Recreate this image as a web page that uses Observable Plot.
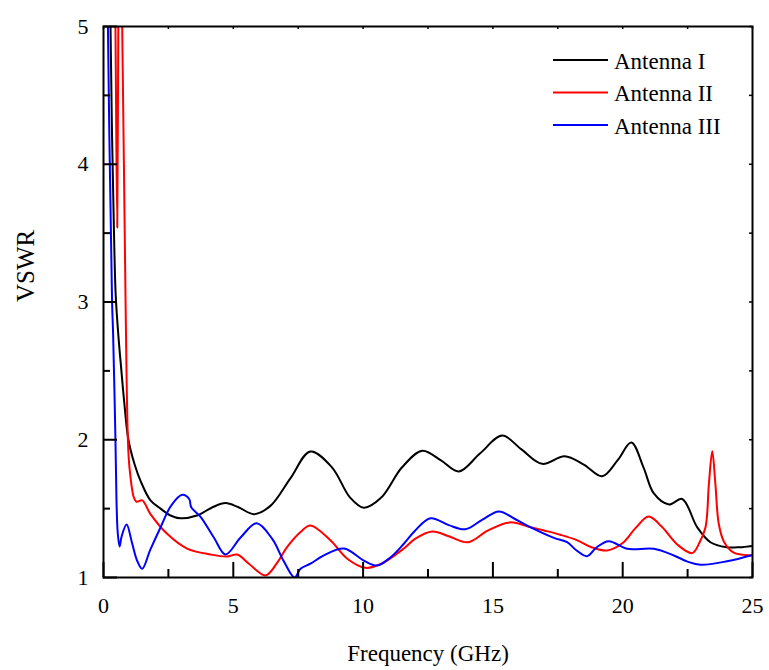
<!DOCTYPE html>
<html>
<head>
<meta charset="utf-8">
<script src="https://cdn.jsdelivr.net/npm/d3@7"></script>
<script src="https://cdn.jsdelivr.net/npm/@observablehq/plot@0.6"></script>
<style>
  body { margin: 0; background: #fff; }
  #wrap { width: 769px; height: 670px; }
</style>
</head>
<body>
<div id="wrap"></div>
<script>
// ---- Data ----
const seriesNames = ["Antenna I", "Antenna II", "Antenna III"];
const seriesColors = ["#000000", "#ff0000", "#0000ff"];

const freqI = [0, 0.15, 0.27, 0.33, 0.40, 0.47, 0.58, 0.69, 0.80, 0.96, 1.2, 1.43, 1.81, 2.2, 2.58, 2.97, 3.6, 4.2, 4.7, 5.2, 5.8, 6.43, 7.2, 7.97, 8.8, 9.5, 10.03, 10.7, 11.5, 12.28, 13.0, 13.69, 14.5, 15.36, 16.1, 16.9, 17.76, 18.5, 19.21, 19.8, 20.33, 20.8, 21.2, 21.78, 22.29, 22.87, 23.38, 24.0, 24.5, 25];
const vswrI = [9, 6.5, 5.0, 4.2, 3.54, 3.05, 2.74, 2.5, 2.27, 2.0, 1.82, 1.70, 1.56, 1.50, 1.45, 1.43, 1.45, 1.51, 1.54, 1.51, 1.46, 1.52, 1.72, 1.915, 1.80, 1.58, 1.506, 1.58, 1.80, 1.92, 1.85, 1.77, 1.90, 2.03, 1.93, 1.825, 1.88, 1.82, 1.735, 1.85, 1.98, 1.80, 1.61, 1.53, 1.57, 1.365, 1.256, 1.22, 1.22, 1.23];

const freqII = [0, 0.3, 0.46, 0.53, 0.57, 0.62, 0.72, 0.85, 0.94, 1.0, 1.17, 1.27, 1.49, 1.81, 2.45, 3.22, 4.12, 4.76, 5.15, 5.6, 6.24, 6.7, 7.07, 7.59, 7.97, 8.74, 9.39, 10.09, 10.7, 11.57, 12.0, 12.66, 13.3, 14.04, 14.8, 15.65, 16.45, 17.0, 17.6, 18.25, 18.8, 19.4, 20.0, 20.5, 21.0, 21.5, 22.1, 22.68, 22.95, 23.19, 23.32, 23.45, 23.57, 23.7, 23.9, 24.28, 24.92, 25];
const vswrII = [9, 8, 5.0, 3.54, 5.0, 6, 5.0, 3.0, 2.0, 1.8, 1.58, 1.55, 1.56, 1.46, 1.317, 1.21, 1.167, 1.152, 1.167, 1.10, 1.015, 1.11, 1.22, 1.33, 1.377, 1.27, 1.136, 1.07, 1.10, 1.21, 1.28, 1.334, 1.30, 1.256, 1.34, 1.40, 1.365, 1.34, 1.31, 1.27, 1.22, 1.196, 1.25, 1.36, 1.443, 1.37, 1.24, 1.177, 1.25, 1.365, 1.68, 1.917, 1.68, 1.39, 1.26, 1.18, 1.16, 1.16];

const freqIII = [0, 0.1, 0.17, 0.33, 0.37, 0.46, 0.50, 0.55, 0.62, 0.70, 0.89, 1.1, 1.3, 1.49, 1.8, 2.2, 2.6, 3.03, 3.3, 3.38, 3.74, 4.25, 4.7, 5.28, 5.9, 6.5, 6.94, 7.36, 7.59, 7.97, 8.49, 9.26, 10.03, 10.54, 11.06, 11.57, 12.0, 12.6, 13.3, 13.94, 14.6, 15.23, 15.8, 16.32, 17.35, 17.86, 18.2, 18.63, 19.0, 19.46, 20.17, 21.2, 21.97, 22.5, 23.0, 24.02, 24.92, 25];
const vswrIII = [9, 6.5, 5.0, 3.0, 2.77, 2.0, 1.56, 1.32, 1.225, 1.3, 1.385, 1.25, 1.12, 1.063, 1.2, 1.365, 1.52, 1.60, 1.57, 1.51, 1.44, 1.29, 1.167, 1.29, 1.394, 1.28, 1.12, 1.0, 1.063, 1.10, 1.16, 1.21, 1.123, 1.087, 1.147, 1.245, 1.34, 1.43, 1.38, 1.35, 1.42, 1.48, 1.43, 1.377, 1.288, 1.256, 1.2, 1.155, 1.22, 1.264, 1.208, 1.208, 1.16, 1.115, 1.092, 1.118, 1.16, 1.165];

const xMajorTicks = [0, 5, 10, 15, 20, 25];
const xMinorTicks = [2.5, 7.5, 12.5, 17.5, 22.5];
const yMajorTicks = [1, 2, 3, 4, 5];
const yMinorTicks = [1.5, 2.5, 3.5, 4.5];
const xLabel = "Frequency (GHz)";
const yLabel = "VSWR";

// ---- Build ----
const freqs = [freqI, freqII, freqIII];
const vswrs = [vswrI, vswrII, vswrIII];
const series = seriesNames.map((name, k) => ({
  name, color: seriesColors[k],
  points: freqs[k].map((f, i) => ({f, v: vswrs[k][i]}))
}));

const W = 769, H = 670;
const mL = 103, mR = 17, mT = 26, mB = 93;
const fw = W - mL - mR, fh = H - mT - mB;
const font = "Liberation Serif, Times New Roman, serif";

const plot = Plot.plot({
  width: W, height: H,
  marginLeft: mL, marginRight: mR, marginTop: mT, marginBottom: mB,
  x: {domain: [0, 25]},
  y: {domain: [1, 5]},
  style: {fontFamily: font, fontSize: "22px", color: "#000", background: "#fff"},
  marks: [
    ...series.map(s => Plot.line(s.points, {
      x: "f", y: "v", stroke: s.color, strokeWidth: 2, curve: "catmull-rom", clip: true
    })),
    // bottom ticks (inward)
    Plot.ruleX(xMajorTicks, {insetTop: fh - 15, strokeWidth: 2}),
    Plot.ruleX(xMinorTicks, {insetTop: fh - 8, strokeWidth: 2}),
    // top ticks (short)
    Plot.ruleX([...xMajorTicks, ...xMinorTicks], {insetBottom: fh - 3, strokeWidth: 1.5}),
    // left ticks (inward)
    Plot.ruleY(yMajorTicks, {insetRight: fw - 14, strokeWidth: 2}),
    Plot.ruleY(yMinorTicks, {insetRight: fw - 7, strokeWidth: 2}),
    // right ticks (short)
    Plot.ruleY([...yMajorTicks, ...yMinorTicks], {insetLeft: fw - 3, strokeWidth: 1.5}),
    Plot.frame({stroke: "#000", strokeWidth: 2}),
    Plot.axisX(xMajorTicks, {
      tickSize: 0, tickPadding: 20, fontSize: 22, fontFamily: font, tickFormat: d => String(d),
      label: null
    }),
    Plot.axisY(yMajorTicks, {
      tickSize: 0, tickPadding: 15, fontSize: 22, fontFamily: font, tickFormat: d => String(d),
      label: null
    }),
    Plot.text([xLabel], {
      frameAnchor: "bottom", dy: 83, text: d => d, fontSize: 23, fontFamily: font,
      lineAnchor: "bottom", fill: "#000"
    }),
    Plot.text([yLabel], {
      frameAnchor: "left", dx: -78, text: d => d, fontSize: 25, fontFamily: font,
      rotate: -90, fill: "#000"
    })
  ]
});

// Legend drawn into the same SVG
const svg = d3.select(plot);
const lg = svg.append("g").attr("font-family", font).attr("font-size", 23)
  .attr("text-anchor", "start");
series.forEach((s, i) => {
  const y = 60 + i * 32.5;
  lg.append("line").attr("x1", 553).attr("x2", 608).attr("y1", y).attr("y2", y)
    .attr("stroke", s.color).attr("stroke-width", 2);
  lg.append("text").attr("x", 614).attr("y", y + 8.5).attr("fill", "#000")
    .style("text-anchor", "start").text(s.name);
});

document.getElementById("wrap").append(plot);
</script>
</body>
</html>
